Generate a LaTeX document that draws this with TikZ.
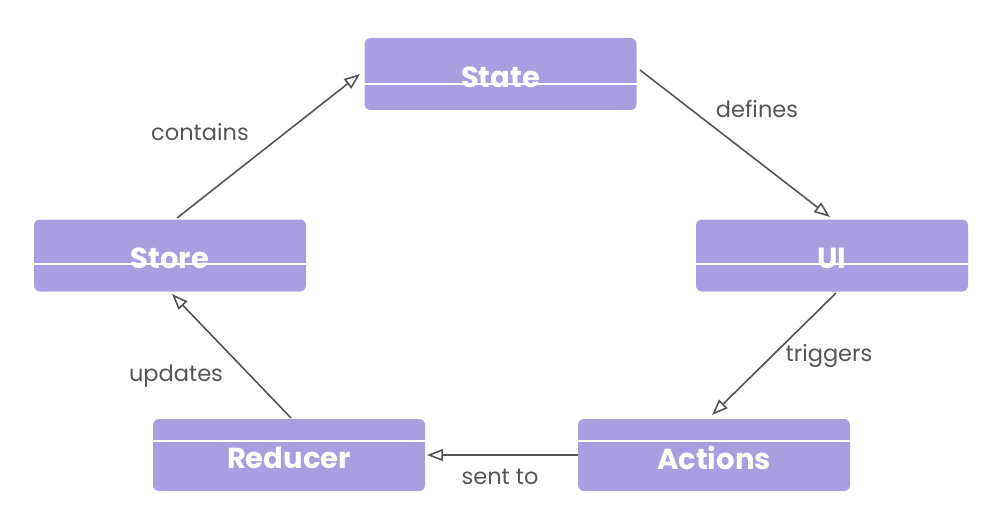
\documentclass[tikz,border=0pt]{standalone}
\usepackage{fontspec}
\setmainfont{Poppins}
\usetikzlibrary{arrows.meta}
\definecolor{boxfill}{HTML}{A89EE0}
\definecolor{lbl}{HTML}{555555}
\definecolor{edge}{HTML}{555555}
\tikzset{
  stepbox/.style={draw=none, fill=boxfill, rounded corners=6pt, minimum width=272pt, minimum height=72pt, inner sep=0pt},
  boxtext/.style={text=white, font=\fontsize{29}{32}\selectfont\bfseries},
  conn/.style={draw=edge, line width=1.6pt, -{Triangle[open, length=16pt, width=12pt]}},
  lab/.style={text=lbl, font=\fontsize{22.5}{26}\selectfont}
}
\begin{document}
\begin{tikzpicture}[x=1pt,y=-1pt]
\useasboundingbox (0,0) rectangle (992,532);
% boxes
\node[stepbox] (state) at (500.5,74) {};
\node[stepbox] (store) at (170,255.5) {};
\node[stepbox] (ui) at (832,255.5) {};
\node[stepbox] (reducer) at (289,455) {};
\node[stepbox] (actions) at (714,455) {};
% texts
\node[boxtext] (tstate) at (500.5,77) {State};
\node[boxtext] (tstore) at (170,258) {Store};
\node[boxtext] (tui) at (832,258) {UI};
\node[boxtext] (treducer) at (289,458) {Reducer};
\node[boxtext] (tactions) at (714,458) {Actions};
% white lines
\draw[white, line width=2pt] (state.west |- 0,84) -- (state.east |- 0,84);
\draw[white, line width=2pt] (store.west |- 0,264) -- (store.east |- 0,264);
\draw[white, line width=2pt] (ui.west |- 0,264) -- (ui.east |- 0,264);
\draw[white, line width=2pt] (reducer.west |- 0,441) -- (reducer.east |- 0,441);
\draw[white, line width=2pt] (actions.west |- 0,441) -- (actions.east |- 0,441);
% connector endpoints
\coordinate (a1s) at (177,218);
\coordinate (a1e) at (360,74);
\coordinate (a2s) at (640,70);
\coordinate (a2e) at (830,217);
\coordinate (a3s) at (836,293);
\coordinate (a3e) at (712,415);
\coordinate (a4s) at (578,455);
\coordinate (a4e) at (427,455);
\coordinate (a5s) at (291,418);
\coordinate (a5e) at (172,294);
\draw[conn] (a1s) -- (a1e);
\draw[conn] (a2s) -- (a2e);
\draw[conn] (a3s) -- (a3e);
\draw[conn] (a4s) -- (a4e);
\draw[conn] (a5s) -- (a5e);
% labels
\node[lab] (lcontains) at (200,132) {contains};
\node[lab] (ldefines) at (757,109) {defines};
\node[lab] (ltriggers) at (829,356) {triggers};
\node[lab] (lsent) at (500,477) {sent to};
\node[lab] (lupdates) at (176,376) {updates};
\end{tikzpicture}
\end{document}
